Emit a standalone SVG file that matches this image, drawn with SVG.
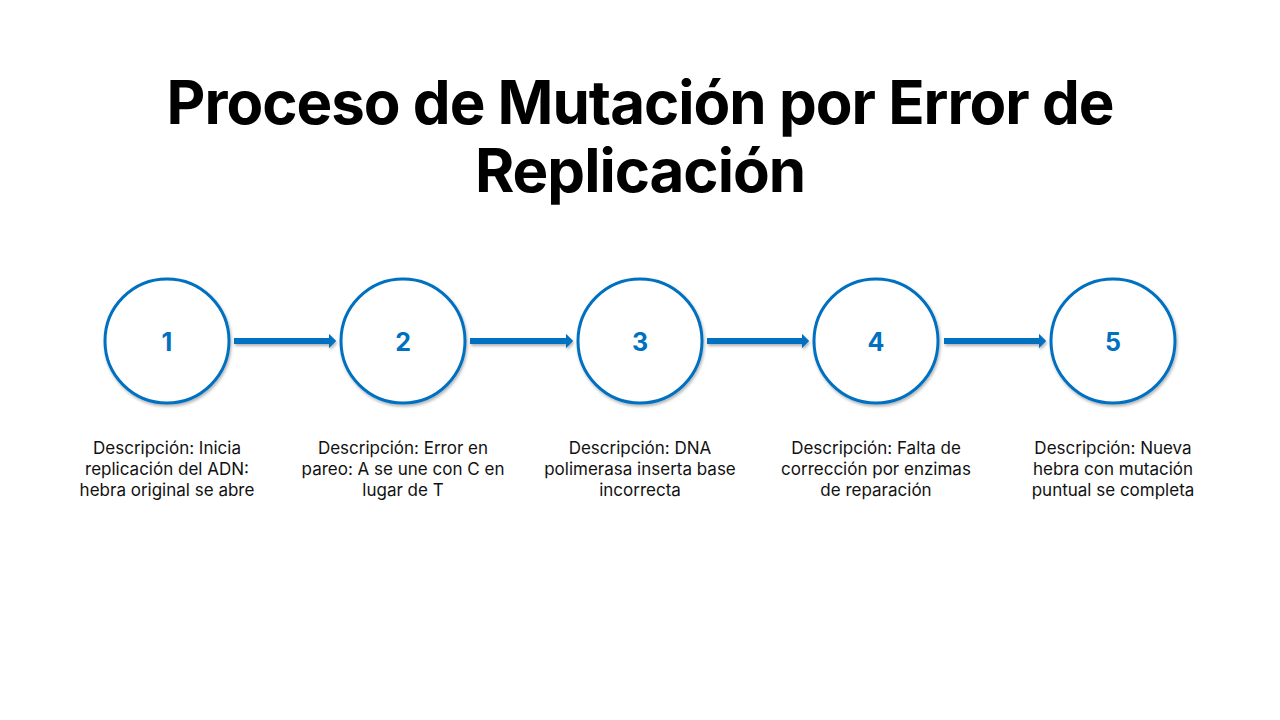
<svg xmlns="http://www.w3.org/2000/svg" width="1280" height="720" viewBox="0 0 1280 720">
<style>
.title{font-family:"Inter","Lato","Liberation Sans",sans-serif;font-weight:700;font-size:60px;fill:#000;text-anchor:middle;letter-spacing:-1px}
.node circle{fill:#fff;stroke:#0070C0;stroke-width:3;filter:url(#sh)}
.num{font-family:"Inter","Lato","Liberation Sans",sans-serif;font-weight:700;font-size:25px;fill:#0070C0;text-anchor:middle;dominant-baseline:central}
.desc{font-family:"Inter","Lato","Liberation Sans",sans-serif;font-size:17px;fill:#111;text-anchor:middle}
.conn line{stroke:#0070C0;stroke-width:6;marker-end:url(#ah)}
.conn{filter:url(#sh2)}
</style>
<defs>
<filter id="sh" x="-20%" y="-20%" width="140%" height="140%">
<feDropShadow dx="1" dy="2" stdDeviation="1.5" flood-color="#000" flood-opacity="0.3"/>
</filter>
<filter id="sh2" filterUnits="userSpaceOnUse" x="0" y="300" width="1280" height="80">
<feDropShadow dx="1" dy="2" stdDeviation="1.5" flood-color="#000" flood-opacity="0.3"/>
</filter>
<marker id="ah" markerWidth="2" markerHeight="2.4" refX="0" refY="1.2" orient="auto" markerUnits="strokeWidth">
<path d="M0,0 L1.2,1.2 L0,2.4 Z" fill="#0070C0"/>
</marker>
</defs>
<rect width="1280" height="720" fill="#fff"/>
<text class="title" x="640" y="124">Proceso de Mutación por Error de</text>
<text class="title" x="640" y="192">Replicación</text>
<g class="conn" id="connectors">
<line x1="234" y1="341" x2="329" y2="341"/>
<line x1="470" y1="341" x2="566" y2="341"/>
<line x1="707" y1="341" x2="802" y2="341"/>
<line x1="944" y1="341" x2="1039" y2="341"/>
</g>
<g class="node" id="node1">
<circle cx="167" cy="341" r="62"/>
<text class="num" x="167" y="342">1</text>
<text class="desc" x="167" y="454">Descripción: Inicia</text>
<text class="desc" x="167" y="475">replicación del ADN:</text>
<text class="desc" x="167" y="496">hebra original se abre</text>
</g>
<g class="node" id="node2">
<circle cx="403" cy="341" r="62"/>
<text class="num" x="403" y="342">2</text>
<text class="desc" x="403" y="454">Descripción: Error en</text>
<text class="desc" x="403" y="475">pareo: A se une con C en</text>
<text class="desc" x="403" y="496">lugar de T</text>
</g>
<g class="node" id="node3">
<circle cx="640" cy="341" r="62"/>
<text class="num" x="640" y="342">3</text>
<text class="desc" x="640" y="454">Descripción: DNA</text>
<text class="desc" x="640" y="475">polimerasa inserta base</text>
<text class="desc" x="640" y="496">incorrecta</text>
</g>
<g class="node" id="node4">
<circle cx="876" cy="341" r="62"/>
<text class="num" x="876" y="342">4</text>
<text class="desc" x="876" y="454">Descripción: Falta de</text>
<text class="desc" x="876" y="475">corrección por enzimas</text>
<text class="desc" x="876" y="496">de reparación</text>
</g>
<g class="node" id="node5">
<circle cx="1113" cy="341" r="62"/>
<text class="num" x="1113" y="342">5</text>
<text class="desc" x="1113" y="454">Descripción: Nueva</text>
<text class="desc" x="1113" y="475">hebra con mutación</text>
<text class="desc" x="1113" y="496">puntual se completa</text>
</g>
</svg>
